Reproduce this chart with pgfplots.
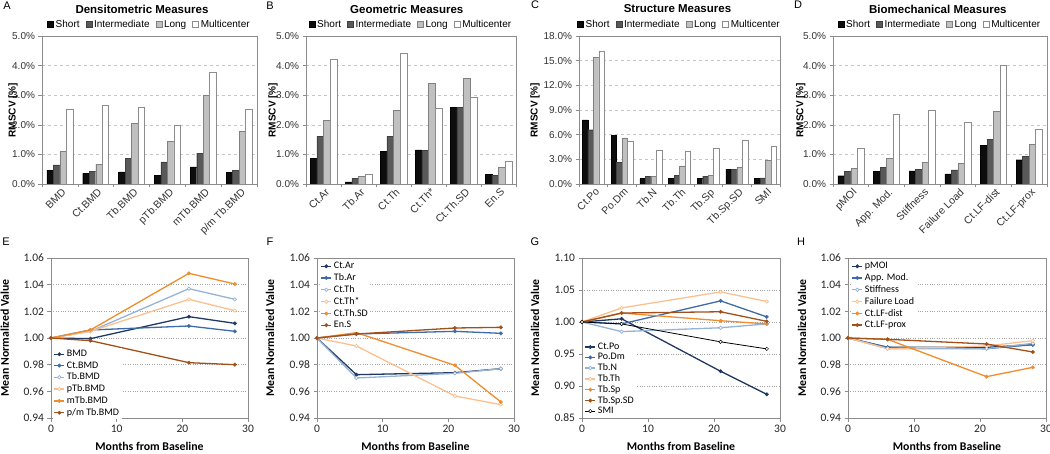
\documentclass[border=0pt]{standalone}
\usepackage{fontspec}
\setmainfont{Liberation Sans}
\newfontfamily\calibri{Carlito}
\usepackage{pgfplots}
\pgfplotsset{compat=1.18}
\definecolor{cnavy}{HTML}{1F3864}
\definecolor{cblue}{HTML}{3E6BA6}
\definecolor{clblue}{HTML}{95B3D7}
\definecolor{clorange}{HTML}{FAC090}
\definecolor{corange}{HTML}{F08C2C}
\definecolor{cbrown}{HTML}{A0501A}
\definecolor{axgray}{HTML}{8C8C8C}
\definecolor{bdark}{HTML}{595959}
\definecolor{blight}{HTML}{C0C0C0}
\pgfplotsset{
 topbar/.style={
   scale only axis, height=148pt,
   ybar=0pt, ymin=0, xmin=-0.5,
   axis line style={axgray},
   tick style={axgray, line width=0.5pt},
   tick align=outside, xtick pos=bottom, ytick pos=left,
   major tick length=3.5pt,
   ymajorgrids, grid style={dashed, gray!45},
   /pgf/number format/assume math mode=true,
   yticklabel={\pgfmathprintnumber[fixed,fixed zerofill,precision=1]{\tick}\%},
   yticklabel style={font=\fontsize{10}{12}\selectfont, text=black!80},
   xticklabels={},
   extra x tick style={major tick length=0pt, grid=none,
     xticklabel style={font=\fontsize{10.5}{12}\selectfont, rotate=45, anchor=north east, xshift=2pt, text=black!80}},
   ylabel={RMSCV [\%]},
   ylabel style={font=\fontsize{10}{12}\selectfont\bfseries, anchor=center},
   every axis title/.style={font=\fontsize{11.5}{13}\selectfont\bfseries, anchor=center, yshift=27pt},
   legend style={draw=none, fill=none, legend columns=4, at={(0.5,1)}, anchor=south, yshift=4pt,
     font=\fontsize{10}{12}\selectfont, inner sep=1pt,
     /tikz/every even column/.append style={column sep=4pt}},
   legend image code/.code={\draw[##1] (0pt,-3pt) rectangle (6pt,3pt);},
 },
 bS/.style={fill=black!95, draw=black, line width=0.4pt},
 bI/.style={fill=bdark, draw=black!75, line width=0.4pt},
 bL/.style={fill=blight, draw=gray, line width=0.4pt},
 bM/.style={fill=white, draw=gray!90, line width=0.5pt},
 lineax/.style={
   scale only axis, width=197pt, height=160pt,
   xmin=0, xmax=30, xtick={0,10,20,30},
   axis line style={axgray}, tick style={axgray, line width=0.5pt},
   tick align=outside, xtick pos=bottom, ytick pos=left, major tick length=3.5pt,
   ymajorgrids, grid style={dotted, gray!70, line width=0.6pt},
   /pgf/number format/assume math mode=true,
   tick label style={font=\calibri\fontsize{11.5}{13}\selectfont, text=black!85},
   y tick label style={/pgf/number format/fixed, /pgf/number format/fixed zerofill, /pgf/number format/precision=2},
   xlabel={Months from Baseline}, ylabel={Mean Normalized Value},
   label style={font=\calibri\fontsize{11.8}{14}\selectfont\bfseries},
   xlabel style={at={(axis description cs:0.5,-0.18)}, anchor=center},
   ylabel style={anchor=center},
   legend style={draw=none, fill=white, font=\calibri\fontsize{10}{11.5}\selectfont, anchor=north west, inner sep=0.5pt,
     row sep=-0.6pt},
   legend cell align=left,
   legend image code/.code={\draw[##1, mark repeat=2, mark phase=2] plot coordinates {(0pt,0pt) (5pt,0pt) (10pt,0pt)};},
 },
 s1/.style={cnavy, line width=1.3pt, mark=*, mark size=1.7pt, mark options={fill=cnavy, draw=cnavy, line width=0.5pt}},
 s2/.style={cblue, line width=1.3pt, mark=*, mark size=1.7pt, mark options={fill=cblue, draw=cblue, line width=0.5pt}},
 s3/.style={clblue, line width=1.3pt, mark=*, mark size=1.7pt, mark options={fill=white, draw=clblue, line width=0.7pt}},
 s4/.style={clorange, line width=1.3pt, mark=*, mark size=1.7pt, mark options={fill=white, draw=clorange, line width=0.7pt}},
 s5/.style={corange, line width=1.3pt, mark=*, mark size=1.7pt, mark options={fill=corange, draw=corange, line width=0.5pt}},
 s6/.style={cbrown, line width=1.3pt, mark=*, mark size=1.7pt, mark options={fill=cbrown, draw=cbrown, line width=0.5pt}},
 s7/.style={black, line width=0.8pt, mark=*, mark size=1.7pt, mark options={fill=white, draw=black, line width=0.5pt}},
}
\begin{document}
\begin{tikzpicture}
\useasboundingbox (0pt,0pt) rectangle (1050pt,453pt);
\tikzset{panel/.style={font=\fontsize{11}{13}\selectfont, anchor=center}}
\node[panel] at (7pt,447pt) {A};
\node[panel] at (270pt,447pt) {B};
\node[panel] at (535pt,448pt) {C};
\node[panel] at (798pt,448pt) {D};
\node[panel] at (6pt,211pt) {E};
\node[panel] at (270pt,211pt) {F};
\node[panel] at (535pt,211pt) {G};
\node[panel] at (801pt,211pt) {H};

% ---------- A
\begin{axis}[topbar, at={(42pt,269pt)}, anchor=south west, width=215pt, bar width=6.5pt,
  xmax=5.5, ymax=5, ytick={0,1,...,5},
  xtick={-0.5,0.5,...,5.5},
  extra x ticks={0,1,2,3,4,5},
  extra x tick labels={BMD,Ct.BMD,Tb.BMD,pTb.BMD,mTb.BMD,p/m Tb.BMD},
  title={Densitometric Measures}, title style={at={(axis description cs:0.465,1)}},
  ylabel style={at={(axis description cs:-0.135,0.5)}}]
\addplot[bS] coordinates {(0,0.47) (1,0.36) (2,0.41) (3,0.29) (4,0.58) (5,0.39)};
\addplot[bI] coordinates {(0,0.65) (1,0.42) (2,0.86) (3,0.75) (4,1.04) (5,0.46)};
\addplot[bL] coordinates {(0,1.11) (1,0.66) (2,2.06) (3,1.45) (4,3.00) (5,1.77)};
\addplot[bM] coordinates {(0,2.51) (1,2.67) (2,2.59) (3,1.97) (4,3.79) (5,2.52)};
\legend{Short,Intermediate,Long,Multicenter}
\end{axis}

% ---------- B
\begin{axis}[topbar, at={(306pt,269pt)}, anchor=south west, width=210pt, bar width=6.7pt,
  xmax=5.5, ymax=5, ytick={0,1,...,5},
  xtick={-0.5,0.5,...,5.5},
  extra x ticks={0,1,2,3,4,5},
  extra x tick labels={Ct.Ar,Tb.Ar,Ct.Th,Ct.Th*,Ct.Th.SD,En.S},
  title={Geometric Measures}, title style={at={(axis description cs:0.48,1)}},
  ylabel style={at={(axis description cs:-0.157,0.5)}}]
\addplot[bS] coordinates {(0,0.87) (1,0.07) (2,1.10) (3,1.15) (4,2.60) (5,0.32)};
\addplot[bI] coordinates {(0,1.62) (1,0.20) (2,1.62) (3,1.14) (4,2.60) (5,0.30)};
\addplot[bL] coordinates {(0,2.14) (1,0.25) (2,2.48) (3,3.40) (4,3.57) (5,0.56)};
\addplot[bM] coordinates {(0,4.22) (1,0.33) (2,4.42) (3,2.56) (4,2.93) (5,0.76)};
\legend{Short,Intermediate,Long,Multicenter}
\end{axis}

% ---------- C
\begin{axis}[topbar, at={(579pt,269pt)}, anchor=south west, width=201pt, bar width=5.5pt,
  xmax=6.5, ymax=18, ytick={0,3,...,18},
  xtick={-0.5,0.5,...,6.5},
  extra x ticks={0,1,2,3,4,5,6},
  extra x tick labels={Ct.Po,Po.Dm,Tb.N,Tb.Th,Tb.Sp,Tb.Sp.SD,SMI},
  title={Structure Measures}, title style={at={(axis description cs:0.49,1)}},
  ylabel style={at={(axis description cs:-0.219,0.5)}}]
\addplot[bS] coordinates {(0,7.8) (1,5.9) (2,0.65) (3,0.65) (4,0.70) (5,1.80) (6,0.70)};
\addplot[bI] coordinates {(0,6.6) (1,2.6) (2,0.90) (3,1.05) (4,0.95) (5,1.75) (6,0.75)};
\addplot[bL] coordinates {(0,15.4) (1,5.6) (2,0.95) (3,2.20) (4,1.05) (5,2.05) (6,2.85)};
\addplot[bM] coordinates {(0,16.2) (1,5.2) (2,4.10) (3,3.95) (4,4.30) (5,5.30) (6,4.55)};
\legend{Short,Intermediate,Long,Multicenter}
\end{axis}

% ---------- D
\begin{axis}[topbar, at={(833pt,269pt)}, anchor=south west, width=214pt, bar width=6.5pt,
  xmax=5.5, ymax=5, ytick={0,1,...,5},
  xtick={-0.5,0.5,...,5.5},
  extra x ticks={0,1,2,3,4,5},
  extra x tick labels={pMOI,App. Mod.,Stiffness,Failure Load,Ct.LF-dist,Ct.LF-prox},
  title={Biomechanical Measures}, title style={at={(axis description cs:0.49,1)}},
  ylabel style={at={(axis description cs:-0.150,0.5)}}]
\addplot[bS] coordinates {(0,0.28) (1,0.43) (2,0.44) (3,0.34) (4,1.31) (5,0.82)};
\addplot[bI] coordinates {(0,0.42) (1,0.57) (2,0.50) (3,0.48) (4,1.50) (5,0.94)};
\addplot[bL] coordinates {(0,0.52) (1,0.86) (2,0.74) (3,0.69) (4,2.45) (5,1.33)};
\addplot[bM] coordinates {(0,1.21) (1,2.36) (2,2.49) (3,2.10) (4,4.02) (5,1.86)};
\legend{Short,Intermediate,Long,Multicenter}
\end{axis}

% ---------- E
\begin{axis}[lineax, at={(51pt,35pt)}, anchor=south west,
  ymin=0.94, ymax=1.06, ytick={0.94,0.96,...,1.06},
  ylabel style={at={(axis description cs:-0.234,0.5)}},
  legend style={at={(axis description cs:0.01,0.44)}}]
\addplot[s1] coordinates {(0,1.000) (6,0.9995) (21,1.016) (28,1.011)};
\addplot[s2] coordinates {(0,1.000) (6,1.006) (21,1.009) (28,1.005)};
\addplot[s3] coordinates {(0,1.000) (6,1.005) (21,1.037) (28,1.029)};
\addplot[s4] coordinates {(0,1.000) (6,1.005) (21,1.029) (28,1.0205)};
\addplot[s5] coordinates {(0,1.000) (6,1.006) (21,1.0485) (28,1.0405)};
\addplot[s6] coordinates {(0,1.000) (6,0.998) (21,0.9815) (28,0.980)};
\legend{BMD,Ct.BMD,Tb.BMD,pTb.BMD,mTb.BMD,p/m Tb.BMD}
\end{axis}

% ---------- F
\begin{axis}[lineax, at={(317pt,35pt)}, anchor=south west,
  ymin=0.94, ymax=1.06, ytick={0.94,0.96,...,1.06},
  ylabel style={at={(axis description cs:-0.239,0.5)}},
  legend style={at={(axis description cs:0.015,0.99)}}]
\addplot[s1] coordinates {(0,1.000) (6,0.9725) (21,0.974) (28,0.977)};
\addplot[s2] coordinates {(0,1.000) (6,1.003) (21,1.005) (28,1.0035)};
\addplot[s3] coordinates {(0,1.000) (6,0.970) (21,0.9735) (28,0.977)};
\addplot[s4] coordinates {(0,1.000) (6,0.994) (21,0.9565) (28,0.950)};
\addplot[s5] coordinates {(0,1.000) (6,1.004) (21,0.9795) (28,0.952)};
\addplot[s6] coordinates {(0,1.000) (6,1.003) (21,1.0075) (28,1.008)};
\legend{Ct.Ar,Tb.Ar,Ct.Th,Ct.Th*,Ct.Th.SD,En.S}
\end{axis}

% ---------- G
\begin{axis}[lineax, at={(582pt,35pt)}, anchor=south west, width=198pt,
  ymin=0.85, ymax=1.10, ytick={0.85,0.90,...,1.10},
  ylabel style={at={(axis description cs:-0.237,0.5)}},
  legend style={at={(axis description cs:0.01,0.485)}, row sep=-1.6pt}]
\addplot[s1] coordinates {(0,1.000) (6,1.005) (21,0.923) (28,0.887)};
\addplot[s2] coordinates {(0,1.000) (6,0.997) (21,1.033) (28,1.008)};
\addplot[s3] coordinates {(0,1.000) (6,0.985) (21,0.991) (28,0.997)};
\addplot[s4] coordinates {(0,1.000) (6,1.022) (21,1.047) (28,1.032)};
\addplot[s5] coordinates {(0,1.000) (6,1.014) (21,1.002) (28,0.997)};
\addplot[s6] coordinates {(0,1.000) (6,1.014) (21,1.016) (28,1.001)};
\addplot[s7] coordinates {(0,1.000) (6,0.997) (21,0.969) (28,0.958)};
\legend{Ct.Po,Po.Dm,Tb.N,Tb.Th,Tb.Sp,Tb.Sp.SD,SMI}
\end{axis}

% ---------- H
\begin{axis}[lineax, at={(848pt,35pt)}, anchor=south west, width=198pt,
  ymin=0.94, ymax=1.06, ytick={0.94,0.96,...,1.06},
  ylabel style={at={(axis description cs:-0.232,0.5)}},
  legend style={at={(axis description cs:0.015,0.99)}}]
\addplot[s1] coordinates {(0,1.000) (6,0.993) (21,0.993) (28,0.995)};
\addplot[s2] coordinates {(0,1.000) (6,0.993) (21,0.992) (28,0.995)};
\addplot[s3] coordinates {(0,1.000) (6,0.992) (21,0.992) (28,0.996)};
\addplot[s4] coordinates {(0,1.000) (6,0.992) (21,0.994) (28,0.998)};
\addplot[s5] coordinates {(0,1.000) (6,0.999) (21,0.971) (28,0.978)};
\addplot[s6] coordinates {(0,1.000) (6,0.999) (21,0.9955) (28,0.9895)};
\legend{pMOI,App. Mod.,Stiffness,Failure Load,Ct.LF-dist,Ct.LF-prox}
\end{axis}
\end{tikzpicture}
\end{document}
